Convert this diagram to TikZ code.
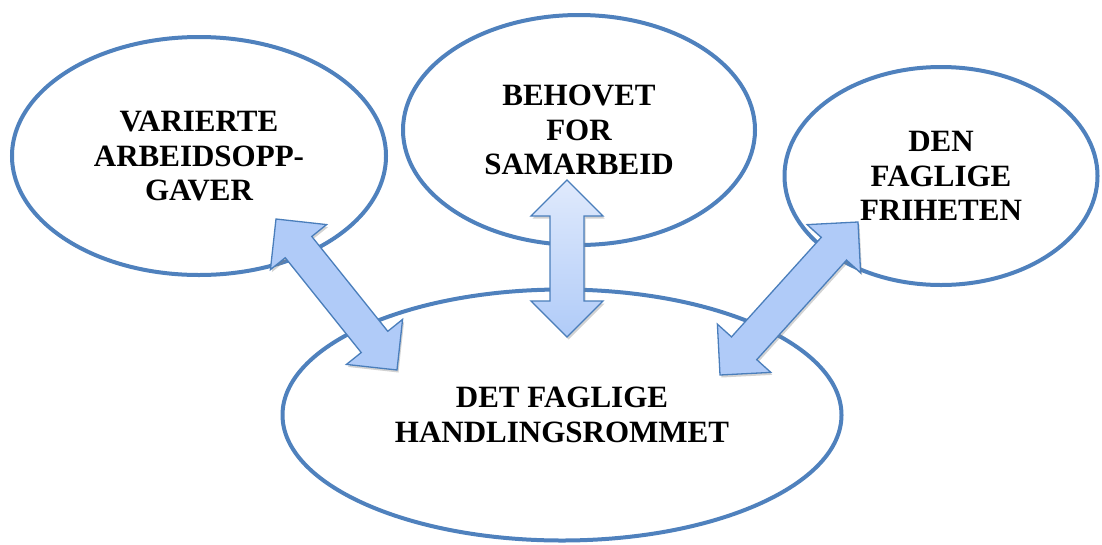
\documentclass[tikz,border=0pt]{standalone}
\usepackage{fontspec}
\setmainfont{Liberation Serif}
\usetikzlibrary{shapes.geometric,calc,shadows}

\definecolor{ringblue}{HTML}{4F81BD}
\definecolor{arrowline}{HTML}{4A7EBB}
\definecolor{arrowfill}{HTML}{B0CBF8}
\definecolor{arrowlight}{HTML}{E0EAFC}

% fat two-way arrow between two named points
\newcommand{\twoway}[3][]{%
  \draw[arrowbody,#1] (#2)
    -- ($(#2)!36pt!(#3)!36pt!90:(#3)$)
    -- ($(#2)!36pt!(#3)!17pt!90:(#3)$)
    -- ($(#3)!36pt!(#2)!17pt!-90:(#2)$)
    -- ($(#3)!36pt!(#2)!36pt!-90:(#2)$)
    -- (#3)
    -- ($(#3)!36pt!(#2)!36pt!90:(#2)$)
    -- ($(#3)!36pt!(#2)!17pt!90:(#2)$)
    -- ($(#2)!36pt!(#3)!17pt!-90:(#3)$)
    -- ($(#2)!36pt!(#3)!36pt!-90:(#3)$)
    -- cycle;}

\begin{document}
\begin{tikzpicture}[x=1pt,y=-1pt,
    ring/.style={ellipse, draw=ringblue, line width=4pt, fill=white,
      align=center, inner sep=0pt,
      font=\fontsize{31}{34.5}\selectfont\bfseries},
    arrowbody/.style={draw=arrowline, line width=1.3pt, fill=arrowfill,
      line join=miter,
      drop shadow={opacity=0.35, shadow xshift=1.5pt, shadow yshift=-2.5pt}}]

            \useasboundingbox (0,0) rectangle (1102,544);

            \node[ring, minimum width=374pt, minimum height=238pt] (varierte) at (199,156)
            {VARIERTE\\ARBEIDSOPP-\\GAVER};
            \node[ring, minimum width=352pt, minimum height=230pt] (behovet) at (579,130)
            {BEHOVET\\FOR\\SAMARBEID};
            \node[ring, minimum width=313pt, minimum height=218pt] (friheten) at (941,176)
            {DEN\\FAGLIGE\\FRIHETEN};
            \node[ring, minimum width=559pt, minimum height=251pt] (rommet) at (562,415)
            {DET FAGLIGE\\HANDLINGSROMMET};

            \coordinate (vTip) at (276,219);
            \coordinate (rTipL) at (397,370);
            \coordinate (bTip) at (567,180);
            \coordinate (rTipM) at (567,337);
            \coordinate (fTip) at (858,222);
            \coordinate (rTipR) at (720,375);

            \twoway{vTip}{rTipL}
            \twoway[top color=arrowlight, bottom color=arrowfill]{bTip}{rTipM}
            \twoway{fTip}{rTipR}

\end{tikzpicture}
\end{document}
